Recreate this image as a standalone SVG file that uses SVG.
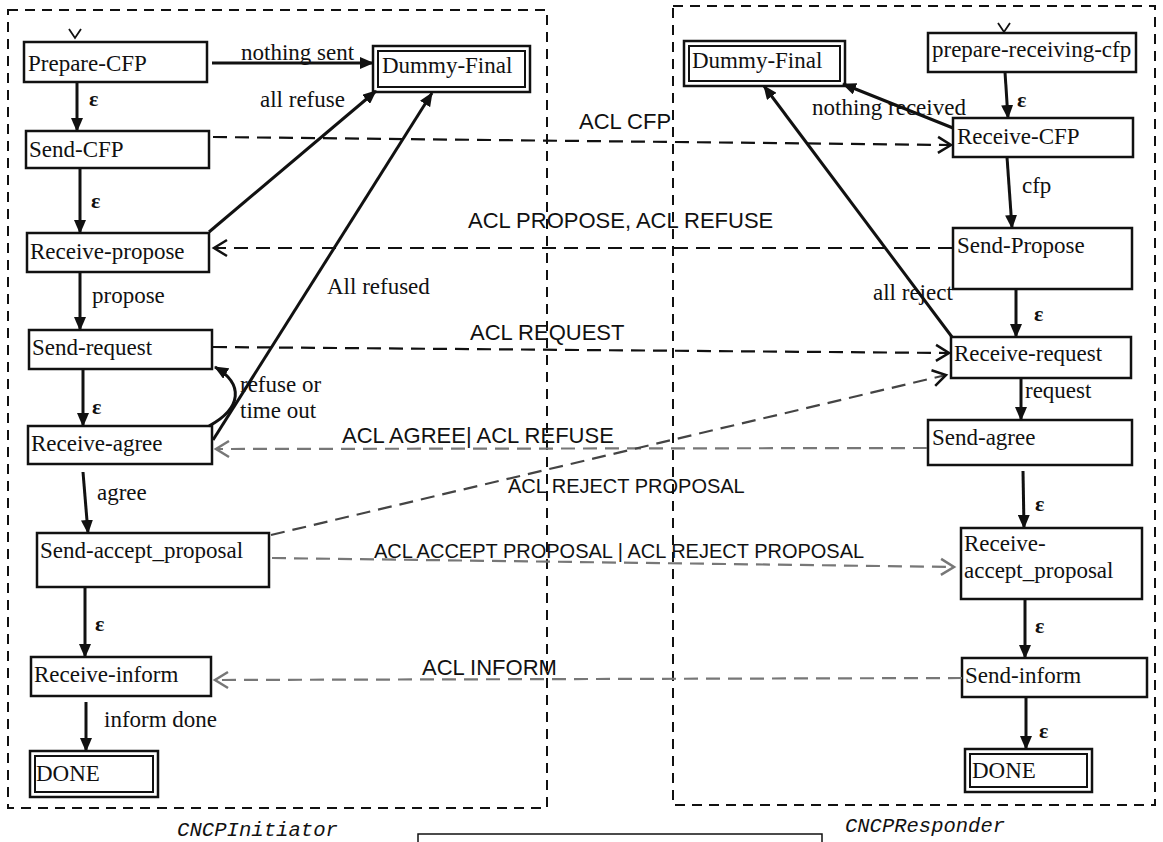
<svg xmlns="http://www.w3.org/2000/svg" width="1163" height="842" viewBox="0 0 1163 842">
  <style>
    .frame { fill: none; stroke: #111; stroke-width: 2; stroke-dasharray: 10 7; }
    .node rect { fill: #fff; stroke: #111; stroke-width: 2.5; }
    .node rect.inner { stroke-width: 2; }
    .nt { font-family: "Liberation Serif", "Times New Roman", serif; font-size: 23px; fill: #111; }
    .lbl { font-family: "Liberation Serif", "Times New Roman", serif; font-size: 23px; fill: #111; }
    .eps { font-family: "Liberation Serif", "Times New Roman", serif; font-size: 22px; font-weight: bold; fill: #111; }
    .msg { font-family: "Liberation Sans", Arial, sans-serif; font-size: 22px; fill: #111; }
    .msg.small { font-size: 20px; }
    .agent { font-family: "Liberation Mono", "Courier New", monospace; font-style: italic; font-size: 20px; fill: #111; }
    .tr { fill: none; stroke: #111; stroke-width: 3; marker-end: url(#solid); }
    .msgline { fill: none; stroke: #111; stroke-width: 2.2; stroke-dasharray: 14 8; marker-end: url(#open); }
    .msgline.grey { stroke: #777; marker-end: url(#openGrey); }
    .msgline.mid { stroke: #444; }
    .start { fill: none; stroke: #111; stroke-width: 1.8; }
  </style>
  <defs>
    <marker id="solid" markerUnits="userSpaceOnUse" markerWidth="14" markerHeight="12" refX="13" refY="6" orient="auto">
      <path d="M0,0 L14,6 L0,12 z" fill="#111"/>
    </marker>
    <marker id="open" markerUnits="userSpaceOnUse" markerWidth="18" markerHeight="20" refX="15" refY="10" orient="auto">
      <path d="M2,2 L15,10 L2,18" fill="none" stroke="#111" stroke-width="2.5"/>
    </marker>
    <marker id="openGrey" markerUnits="userSpaceOnUse" markerWidth="18" markerHeight="20" refX="15" refY="10" orient="auto">
      <path d="M2,2 L15,10 L2,18" fill="none" stroke="#777" stroke-width="2.5"/>
    </marker>
  </defs>

  <rect width="1163" height="842" fill="#fff"/>

  <!-- agent frames -->
  <g id="frames">
    <rect class="frame" x="8" y="10" width="539" height="798"/>
    <rect class="frame" x="673" y="6" width="482" height="799"/>
    <text class="agent" x="177" y="836" textLength="161" lengthAdjust="spacingAndGlyphs">CNCPInitiator</text>
    <text class="agent" x="845" y="832" textLength="160" lengthAdjust="spacingAndGlyphs">CNCPResponder</text>
    <rect x="418" y="834" width="404" height="20" fill="none" stroke="#111" stroke-width="1.5"/>
  </g>

  <!-- initiator states -->
  <g id="i-prepare-cfp" class="node">
    <rect x="24" y="42" width="183" height="40"/>
    <text class="nt" x="28" y="71">Prepare-CFP</text>
  </g>
  <g id="i-dummy-final" class="node">
    <rect x="373" y="46" width="157" height="46"/>
    <rect class="inner" x="378" y="51" width="147" height="36"/>
    <text class="nt" x="382" y="73">Dummy-Final</text>
  </g>
  <g id="i-send-cfp" class="node">
    <rect x="26" y="131" width="183" height="37"/>
    <text class="nt" x="29" y="157">Send-CFP</text>
  </g>
  <g id="i-receive-propose" class="node">
    <rect x="27" y="233" width="182" height="39"/>
    <text class="nt" x="30" y="259">Receive-propose</text>
  </g>
  <g id="i-send-request" class="node">
    <rect x="29" y="330" width="183" height="39"/>
    <text class="nt" x="32" y="355">Send-request</text>
  </g>
  <g id="i-receive-agree" class="node">
    <rect x="28" y="426" width="184" height="38"/>
    <text class="nt" x="31" y="451">Receive-agree</text>
  </g>
  <g id="i-send-accept-proposal" class="node">
    <rect x="37" y="533" width="232" height="54"/>
    <text class="nt" x="40" y="558">Send-accept_proposal</text>
  </g>
  <g id="i-receive-inform" class="node">
    <rect x="31" y="657" width="180" height="39"/>
    <text class="nt" x="34" y="682">Receive-inform</text>
  </g>
  <g id="i-done" class="node">
    <rect x="30" y="751" width="128" height="46"/>
    <rect class="inner" x="35" y="756" width="118" height="36"/>
    <text class="nt" x="36" y="781">DONE</text>
  </g>

  <!-- responder states -->
  <g id="r-dummy-final" class="node">
    <rect x="684" y="41" width="161" height="45"/>
    <rect class="inner" x="689" y="46" width="151" height="35"/>
    <text class="nt" x="692" y="68">Dummy-Final</text>
  </g>
  <g id="r-prepare-receiving-cfp" class="node">
    <rect x="928" y="33" width="208" height="39"/>
    <text class="nt" x="932" y="57">prepare-receiving-cfp</text>
  </g>
  <g id="r-receive-cfp" class="node">
    <rect x="953" y="118" width="180" height="39"/>
    <text class="nt" x="957" y="144">Receive-CFP</text>
  </g>
  <g id="r-send-propose" class="node">
    <rect x="953" y="228" width="179" height="61"/>
    <text class="nt" x="957" y="253">Send-Propose</text>
  </g>
  <g id="r-receive-request" class="node">
    <rect x="951" y="337" width="180" height="41"/>
    <text class="nt" x="954" y="361">Receive-request</text>
  </g>
  <g id="r-send-agree" class="node">
    <rect x="928" y="420" width="204" height="45"/>
    <text class="nt" x="932" y="445">Send-agree</text>
  </g>
  <g id="r-receive-accept-proposal" class="node">
    <rect x="961" y="528" width="181" height="71"/>
    <text class="nt" x="964" y="551">Receive-</text>
    <text class="nt" x="964" y="578">accept_proposal</text>
  </g>
  <g id="r-send-inform" class="node">
    <rect x="962" y="658" width="185" height="39"/>
    <text class="nt" x="965" y="683">Send-inform</text>
  </g>
  <g id="r-done" class="node">
    <rect x="965" y="749" width="127" height="43"/>
    <rect class="inner" x="970" y="754" width="117" height="33"/>
    <text class="nt" x="972" y="778">DONE</text>
  </g>

  <!-- transitions and messages -->
  <g id="connectors">
    <!-- initial-state ticks -->
    <path class="start" d="M69,29 L75,38 L81,29"/>
    <path class="start" d="M998,23 L1004,32 L1010,23"/>

    <!-- initiator transitions -->
    <path class="tr" d="M212,63 L373,63"/>
    <text class="lbl" x="241" y="60">nothing sent</text>
    <path class="tr" d="M77,82 L77,131"/>
    <text class="eps" x="89" y="106">ε</text>
    <path class="tr" d="M80,168 L80,233"/>
    <text class="eps" x="91" y="208">ε</text>
    <path class="tr" d="M209,232 L376,91"/>
    <text class="lbl" x="260" y="107">all refuse</text>
    <path class="tr" d="M80,272 L80,330"/>
    <text class="lbl" x="92" y="303">propose</text>
    <path class="tr" d="M83,369 L83,426"/>
    <text class="eps" x="92" y="414">ε</text>
    <path class="tr" d="M213,440 L432,93"/>
    <text class="lbl" x="327" y="294">All refused</text>
    <path class="tr" d="M209,426 C242,408 244,384 215,367"/>
    <text class="lbl" x="240" y="392">refuse or</text>
    <text class="lbl" x="240" y="418">time out</text>
    <path class="tr" d="M83,472 L88,533"/>
    <text class="lbl" x="97" y="500">agree</text>
    <path class="tr" d="M85,587 L85,657"/>
    <text class="eps" x="95" y="631">ε</text>
    <path class="tr" d="M86,702 L86,751"/>
    <text class="lbl" x="104" y="727">inform done</text>

    <!-- responder transitions -->
    <path class="tr" d="M1005,72 L1008,118"/>
    <text class="eps" x="1017" y="107">ε</text>
    <path class="tr" d="M953,128 L843,84"/>
    <text class="lbl" x="812" y="115">nothing received</text>
    <path class="tr" d="M1007,157 L1012,228"/>
    <text class="lbl" x="1022" y="193">cfp</text>
    <path class="tr" d="M1016,289 L1016,337"/>
    <text class="eps" x="1034" y="321">ε</text>
    <path class="tr" d="M952,337 L764,86"/>
    <text class="lbl" x="873" y="300">all reject</text>
    <path class="tr" d="M1021,378 L1021,420"/>
    <text class="lbl" x="1025" y="398">request</text>
    <path class="tr" d="M1023,471 L1024,528"/>
    <text class="eps" x="1035" y="511">ε</text>
    <path class="tr" d="M1025,599 L1025,658"/>
    <text class="eps" x="1035" y="633">ε</text>
    <path class="tr" d="M1026,697 L1026,749"/>
    <text class="eps" x="1039" y="738">ε</text>

    <!-- ACL messages between agents -->
    <path class="msgline" d="M213,137 L951,145"/>
    <text class="msg" x="579" y="129">ACL CFP</text>
    <path class="msgline" d="M952,248 L214,248"/>
    <text class="msg" x="468" y="228">ACL PROPOSE, ACL REFUSE</text>
    <path class="msgline" d="M213,347 L949,353"/>
    <text class="msg" x="470" y="340">ACL REQUEST</text>
    <path class="msgline grey" d="M927,448 L216,449"/>
    <text class="msg" x="342" y="443">ACL AGREE| ACL REFUSE</text>
    <path class="msgline mid" d="M271,535 L946,375"/>
    <text class="msg small" x="508" y="493">ACL REJECT PROPOSAL</text>
    <path class="msgline grey" d="M272,558 L954,567"/>
    <text class="msg small" x="374" y="558">ACL ACCEPT PROPOSAL | ACL REJECT PROPOSAL</text>
    <path class="msgline grey" d="M962,678 L215,680"/>
    <text class="msg" x="422" y="675">ACL INFORM</text>
  </g>
</svg>
